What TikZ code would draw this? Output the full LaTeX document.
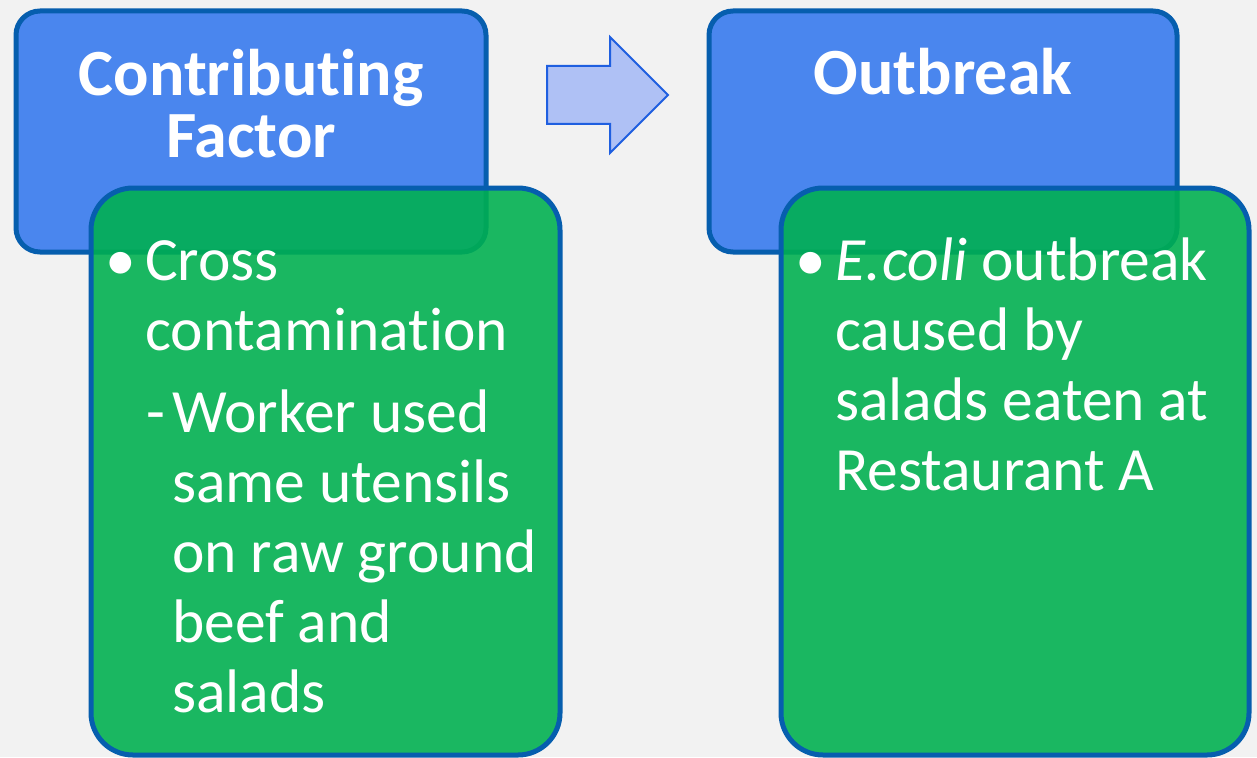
\documentclass[tikz,border=0pt]{standalone}
\usepackage{fontspec}
\setmainfont{Carlito}[Ligatures={NoCommon,TeX}]
\definecolor{bg}{RGB}{242,242,242}
\definecolor{boxblue}{RGB}{74,134,238}
\definecolor{edgeblue}{RGB}{6,94,174}
\definecolor{boxgreen}{RGB}{0,176,80}
\definecolor{arrowfill}{RGB}{175,193,245}
\definecolor{arrowedge}{RGB}{31,95,224}
\tikzset{
  headbox/.style={draw=edgeblue, line width=5pt, fill=boxblue, rounded corners=24pt},
  bodybox/.style={draw=edgeblue, line width=5pt, fill=boxgreen, fill opacity=0.89, rounded corners=42pt},
  title/.style={text=white, font=\fontsize{66}{62}\selectfont\bfseries, align=center, inner sep=0pt},
  body/.style={text=white, font=\fontsize{61.5}{70}\selectfont, align=left, inner sep=0pt},
}
\begin{document}
\begin{tikzpicture}[x=1pt,y=-1pt]
\fill[bg] (0,0) rectangle (1257,757);
\useasboundingbox (0,0) rectangle (1257,757);
% left column
\draw[headbox] (16,11) rectangle (486,252);
\node[title, anchor=base] (cf) at (251,157) {Contributing\\Factor};
\draw[bodybox] (91,188) rectangle (560,755);
\node[body, anchor=base west] (b1) at (105,280) {\textbullet};
\node[body, anchor=base west] (t1) at (145,350) {Cross\\contamination};
\node[body, anchor=base west] (d1) at (146,432) {-};
\node[body, anchor=base west] (t2) at (172,712) {Worker used\\same utensils\\on raw ground\\beef and\\salads};
% arrow
\draw[fill=arrowfill, draw=arrowedge, line width=2pt, line join=miter]
  (547,66) -- (610,66) -- (610,37) -- (668,95) -- (610,153) -- (610,124) -- (547,124) -- cycle;
% right column
\draw[headbox] (709,11) rectangle (1177,252);
\node[title, anchor=base] (ob) at (943,95) {Outbreak};
\draw[bodybox] (781,188) rectangle (1249,755);
\node[body, anchor=base west] (b2) at (795,280) {\textbullet};
\node[body, anchor=base west] (t3) at (835,490) {\textit{E.\kern2pt coli} outbreak\\caused by\\salads eaten at\\Restaurant A};
\end{tikzpicture}
\end{document}
